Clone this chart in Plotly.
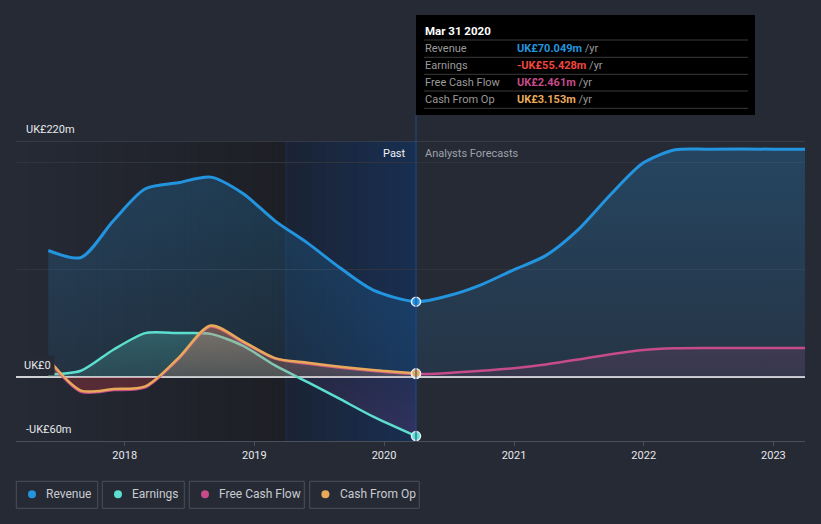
import plotly.graph_objects as go
import pandas as pd

# ---------------- data ----------------
past_dates = ['2017-05-31', '2017-08-31', '2017-11-30', '2018-02-28', '2018-05-31', '2018-08-31',
              '2018-11-30', '2019-02-28', '2019-05-31', '2019-08-31', '2019-11-30', '2020-03-31']
fc_dates = ['2020-06-30', '2020-09-30', '2020-12-31', '2021-03-31', '2021-06-30', '2021-09-30',
            '2021-12-31', '2022-03-31', '2022-06-30', '2022-12-31', '2023-03-31']

revenue_past = [117.8, 111.3, 145.5, 175.4, 181.0, 186.3, 171.0, 145.5, 124.7, 101.4, 81.1, 70.049]
revenue_fc = [75.6, 85.8, 99.8, 113.0, 137.0, 170.0, 199.6, 211.8, 212.4, 212.4, 212.4]

earnings_past = [2.0, 5.6, 25.2, 40.7, 40.7, 40.0, 28.9, 10.5, -5.0, -21.0, -37.0, -55.428]

fcf_past = [15.5, -14.0, -12.5, -10.0, 16.0, 46.8, 32.0, 17.0, 12.0, 8.3, 5.3, 2.461]
fcf_fc = [3.5, 5.5, 8.0, 11.5, 16.0, 21.0, 25.0, 26.5, 26.8, 26.8, 26.8]

cfo_past = [16.5, -13.0, -11.5, -9.0, 17.0, 47.8, 33.0, 17.4, 13.0, 9.3, 6.3, 3.153]

year_ticks = ['2018', '2019', '2020', '2021', '2022', '2023']
y_labels = {220: 'UK£220m', 0: 'UK£0', -60: '-UK£60m'}
NOW = '2020-03-31'
PAST_START = '2019-03-31'
XRANGE = ['2017-03-01', '2023-03-31']
YRANGE = [-60, 220]

# ---------------- style ----------------
BG = '#262a35'
C_REV = '#2394df'
C_EARN = '#5ddfd0'
C_FCF = '#c64b8a'
C_CFO = '#e8a95b'
FONT = 'Roboto, sans-serif'
W, H = 821, 524
L, R, T, B = 16, 16, 141, 83
PW, PH = W - L - R, H - T - B


def px(xp):
    return (xp - L) / PW


def py(yp):
    return (H - B - yp) / PH


t0, t1 = pd.Timestamp(XRANGE[0]).value, pd.Timestamp(XRANGE[1]).value


def dfrac(d):
    return (pd.Timestamp(d).value - t0) / (t1 - t0)


def mix(c0, c1, f):
    return 'rgb(%d,%d,%d)' % tuple(round(a + (b - a) * f) for a, b in zip(c0, c1))


fig = go.Figure()


def grad(neg, pos, lo=-60, hi=60):
    return dict(type='vertical', start=lo, stop=hi,
                colorscale=[[0, neg[0]], [0.4999, neg[1]], [0.5, pos[0]], [1, pos[1]]])


rev_x = past_dates + fc_dates
rev_y = revenue_past + revenue_fc
fig.add_trace(go.Scatter(
    x=rev_x, y=rev_y, mode='lines', line=dict(color=C_REV, width=3, shape='spline', smoothing=0.8),
    fill='tozeroy',
    fillgradient=dict(type='vertical', start=0, stop=220,
                      colorscale=[[0, 'rgba(35,148,223,0.10)'], [1, 'rgba(35,148,223,0.26)']]),
    hoverinfo='skip', showlegend=False))

fig.add_trace(go.Scatter(
    x=past_dates, y=earnings_past, mode='lines',
    line=dict(color=C_EARN, width=2.5, shape='spline', smoothing=0.7),
    fill='tozeroy',
    fillgradient=grad(['rgba(170,70,160,0.18)', 'rgba(170,70,160,0.08)'],
                      ['rgba(93,223,208,0.14)', 'rgba(93,223,208,0.30)']),
    hoverinfo='skip', showlegend=False))

fig.add_trace(go.Scatter(
    x=past_dates + fc_dates, y=fcf_past + fcf_fc, mode='lines',
    line=dict(color=C_FCF, width=2.5, shape='spline', smoothing=0.8),
    fill='tozeroy',
    fillgradient=grad(['rgba(220,50,70,0.22)', 'rgba(220,50,70,0.16)'],
                      ['rgba(198,75,138,0.10)', 'rgba(198,75,138,0.22)']),
    hoverinfo='skip', showlegend=False))

fig.add_trace(go.Scatter(
    x=past_dates, y=cfo_past, mode='lines',
    line=dict(color=C_CFO, width=2.5, shape='spline', smoothing=0.8),
    fill='tozeroy',
    fillgradient=grad(['rgba(220,60,60,0.18)', 'rgba(220,60,60,0.12)'],
                      ['rgba(232,169,91,0.14)', 'rgba(232,169,91,0.32)']),
    hoverinfo='skip', showlegend=False))

# markers at the current date
i_now = past_dates.index(NOW)
for vals, col in [(revenue_past, C_REV), (fcf_past, C_FCF), (cfo_past, C_CFO), (earnings_past, C_EARN)]:
    fig.add_trace(go.Scatter(x=[past_dates[i_now]], y=[vals[i_now]], mode='markers',
                             marker=dict(size=9, color=col, line=dict(color='#e8eef5', width=1.5)),
                             hoverinfo='skip', showlegend=False))

shapes = []
# dark region gradient
N = 40
xe = dfrac(PAST_START)
for k in range(N):
    a, b = xe * k / N, xe * (k + 1) / N
    shapes.append(dict(type='rect', xref='paper', yref='paper', x0=a, x1=b + 0.001, y0=0, y1=1,
                       fillcolor=mix((38, 42, 53), (29, 31, 37), (k + 0.5) / N), line=dict(width=0),
                       layer='below'))
# past region gradient
xs, xn = dfrac(PAST_START), dfrac(NOW)
for k in range(N):
    a, b = xs + (xn - xs) * k / N, xs + (xn - xs) * (k + 1) / N
    shapes.append(dict(type='rect', xref='paper', yref='paper', x0=a, x1=b + 0.001, y0=0, y1=1,
                       fillcolor=mix((27, 35, 52), (24, 47, 82), (k + 0.5) / N), line=dict(width=0),
                       layer='below'))
shapes.append(dict(type='line', xref='x', yref='paper', x0=PAST_START, x1=PAST_START, y0=0, y1=1,
                   line=dict(color='#1f3150', width=1), layer='below'))
# top line
shapes.append(dict(type='line', xref='paper', yref='y', x0=0, x1=1, y0=YRANGE[1], y1=YRANGE[1],
                   line=dict(color='#4a4f5a', width=1), layer='below'))
# now line
shapes.append(dict(type='line', xref='x', yref='paper', x0=NOW, x1=NOW, y0=0, y1=py(115),
                   line=dict(color='#1e4b85', width=1), layer='above'))
# tooltip box
shapes.append(dict(type='rect', xref='paper', yref='paper', x0=px(416), x1=px(755), y0=py(115), y1=py(15),
                   fillcolor='#000000', line=dict(width=0), layer='above'))
for yy in [40, 57.3, 74.3, 91, 108.3]:
    shapes.append(dict(type='line', xref='paper', yref='paper', x0=px(424), x1=px(748), y0=py(yy), y1=py(yy),
                       line=dict(color='#3a3a3a', width=1), layer='above'))

annotations = []
# y labels
for v, txt, yp in [(220, y_labels[220], 129), (-60, y_labels[-60], 429.5)]:
    annotations.append(dict(x=px(24), y=py(yp), xref='paper', yref='paper', text=txt, showarrow=False,
                            xanchor='left', yanchor='middle', font=dict(family=FONT, size=11, color='#e6e8eb')))
annotations.append(dict(x=px(20), y=py(365), xref='paper', yref='paper', text=y_labels[0],
                        showarrow=False, xanchor='left', yanchor='middle', bgcolor=BG, borderpad=3,
                        font=dict(family=FONT, size=11, color='#e6e8eb')))
# past / forecast
annotations.append(dict(x=NOW, y=py(153.3), xref='x', yref='paper', text='Past', showarrow=False,
                        xanchor='right', yanchor='middle', xshift=-8,
                        font=dict(family=FONT, size=11, color='#f0f2f5')))
annotations.append(dict(x=NOW, y=py(153.3), xref='x', yref='paper', text='Analysts Forecasts', showarrow=False,
                        xanchor='left', yanchor='middle', xshift=7,
                        font=dict(family=FONT, size=11, color='#9da2aa')))


# tooltip
def money(v):
    s = 'UK£%.3fm' % abs(v)
    return ('-' if v < 0 else '') + s


annotations.append(dict(x=px(423), y=py(30.7), xref='paper', yref='paper', text='<b>Mar 31 2020</b>',
                        showarrow=False, xanchor='left', yanchor='middle',
                        font=dict(family=FONT, size=11.5, color='#ffffff')))
rows = [('Revenue', revenue_past[i_now], C_REV), ('Earnings', earnings_past[i_now], '#f0463f'),
        ('Free Cash Flow', fcf_past[i_now], C_FCF), ('Cash From Op', cfo_past[i_now], C_CFO)]
for j, (name, v, col) in enumerate(rows):
    yy = 48.5 + j * 17
    annotations.append(dict(x=px(423), y=py(yy), xref='paper', yref='paper', text=name, showarrow=False,
                            xanchor='left', yanchor='middle', font=dict(family=FONT, size=11, color='#9a9a9a')))
    annotations.append(dict(x=px(515), y=py(yy), xref='paper', yref='paper',
                            text='<span style="color:%s"><b>%s</b></span> /yr' % (col, money(v)),
                            showarrow=False, xanchor='left', yanchor='middle',
                            font=dict(family=FONT, size=11, color='#9a9a9a')))

# custom legend
legend_items = [('Revenue', C_REV, 16.3, 97.7), ('Earnings', C_EARN, 102.3, 184.3),
                ('Free Cash Flow', C_FCF, 189.3, 304.3), ('Cash From Op', C_CFO, 309.7, 419.3)]
for name, col, x0, x1 in legend_items:
    shapes.append(dict(type='rect', xref='paper', yref='paper', x0=px(x0), x1=px(x1), y0=py(508.3), y1=py(481.3),
                       line=dict(color='#4a4f5a', width=1), fillcolor=BG, layer='above'))
    shapes.append(dict(type='circle', xref='paper', yref='paper', x0=px(x0 + 11.7), x1=px(x0 + 19.7),
                       y0=py(498.3), y1=py(490.3), fillcolor=col, line=dict(width=0), layer='above'))
    annotations.append(dict(x=px(x0 + 28), y=py(494.5), xref='paper', yref='paper', text=name, showarrow=False,
                            xanchor='left', yanchor='middle', font=dict(family=FONT, size=12, color='#c9ccd1')))

fig.update_layout(
    width=W, height=H, margin=dict(l=L, r=R, t=T, b=B),
    paper_bgcolor=BG, plot_bgcolor=BG,
    font=dict(family=FONT, color='#e6e8eb'),
    shapes=shapes, annotations=annotations, showlegend=False,
    xaxis=dict(type='date', range=XRANGE, showgrid=False, zeroline=False,
               tickvals=[y + '-01-01' for y in year_ticks], ticktext=year_ticks,
               ticks='outside', ticklen=4, tickcolor='#4a4f5a', showline=True, linecolor='#4a4f5a',
               linewidth=1, tickfont=dict(family=FONT, size=11, color='#e6e8eb'), fixedrange=True),
    yaxis=dict(range=YRANGE, tickvals=[100, 200], showticklabels=False, gridcolor='#30343f', gridwidth=1,
               zeroline=True, zerolinecolor='#cfd1d5', zerolinewidth=1.5, showline=False, fixedrange=True),
)

fig.write_html('out.html', config=dict(displayModeBar=False))
